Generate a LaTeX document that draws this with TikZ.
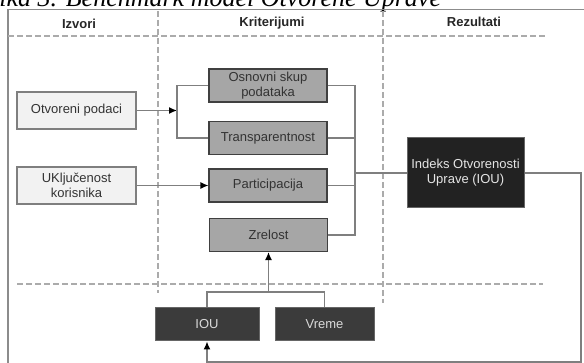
\documentclass[tikz,border=0pt]{standalone}
\usepackage{fontspec}
\setmainfont{Liberation Sans}
\newfontfamily\titlefont{Liberation Serif}
\usepackage{xcolor}
\usetikzlibrary{positioning, arrows.meta, calc}

\definecolor{linegray}{HTML}{7F7F7F}
\definecolor{dashgray}{HTML}{ABABAB}
\definecolor{srcfill}{HTML}{F2F2F2}
\definecolor{critfill}{HTML}{A6A6A6}
\definecolor{darkfill}{HTML}{3B3B3B}
\definecolor{resfill}{HTML}{222222}

\begin{document}
\begin{tikzpicture}[x=1pt, y=-1pt,
        every node/.style={font=\fontsize{13}{15}\selectfont},
        src/.style={draw=linegray, rectangle, fill=srcfill, text=black!80, line width=1.2pt, minimum width=119pt, minimum height=37pt, align=center, inner sep=1pt},
        crit/.style={draw=black!75, rectangle, fill=critfill, text=black!80, line width=1.2pt, minimum width=118pt, minimum height=33pt, align=center, inner sep=1pt},
        res/.style={draw=black!60, rectangle, fill=resfill, text=white!90!black, line width=1pt, minimum width=117pt, minimum height=70pt, align=center, inner sep=1pt},
        inp/.style={draw=black!60, rectangle, fill=darkfill, text=black!15, line width=1pt, minimum height=33pt, align=center, inner sep=1pt},
        head/.style={font=\fontsize{13}{15}\selectfont\bfseries, text=black!85},
        line/.style={draw=linegray, line width=1.3pt},
        arrow/.style={line, -{Latex[length=8pt, width=7pt, color=black, fill=black]}},
        sep/.style={draw=dashgray, line width=1.3pt, dash pattern=on 6pt off 3pt}
    ]

    \useasboundingbox (0,0) rectangle (584,363);
    \clip (0,0) rectangle (584,363);

    % --- Caption (cut at the top) ---
    \node[anchor=base west, inner sep=0pt, font=\titlefont\itshape\fontsize{26}{28}\selectfont] (caption) at (-21,7) {Slika 3. Benchmark model Otvorene Uprave};

    % --- Frame and column separators ---
    \draw[draw=black!45, line width=1.2pt] (8,365) -- (8,9.5) -- (586,9.5);
    \draw[sep] (8,36) -- (547,36);
    \draw[sep] (17,284) -- (543,284);
    \draw[sep] (158,11) -- (158,293);
    \draw[sep] (383,11) -- (383,303);

    % --- Column headers ---
    \node[head] (hizvori) at (79,24) {Izvori};
    \node[head] (hkrit) at (272,23) {Kriterijumi};
    \node[head] (hrez) at (474,22) {Rezultati};

    % --- Sources ---
    \node[src] (otvoreni) at (76.5,110.5) {Otvoreni podaci};
    \node[src] (ukljucenost) at (76.5,185.5) {UKljučenost\\korisnika};

    % --- Criteria ---
    \node[crit] (osnovni) at (268,85.5) {Osnovni skup\\podataka};
    \node[crit] (transp) at (268,138) {Transparentnost};
    \node[crit] (partic) at (268,185.5) {Participacija};
    \node[crit] (zrelost) at (268.5,235) {Zrelost};

    % --- Result ---
    \node[res] (indeks) at (465.5,173) {Indeks Otvorenosti\\Uprave (IOU)};

    % --- Inputs for maturity ---
    \node[inp, minimum width=104pt] (iou) at (207,324.5) {IOU};
    \node[inp, minimum width=99pt] (vreme) at (324.5,324.5) {Vreme};

    % --- Helper points ---
    \coordinate (split) at (177,110.5);
    \coordinate (bus) at (355,0);
    \coordinate (join) at (268.5,292);
    \coordinate (loop) at (581,362);

    % --- Sources to criteria ---
    \draw[arrow] (otvoreni) -- (split);
    \draw[line] (split) |- (osnovni);
    \draw[line] (split) |- (transp);
    \draw[arrow] (ukljucenost) -- (partic);

    % --- Criteria to index ---
    \draw[line] (osnovni) -| (bus |- zrelost) -- (zrelost);
    \draw[line] (transp) -- (transp -| bus);
    \draw[line] (partic) -- (partic -| bus);
    \draw[line] (bus |- indeks) -- (indeks);

    % --- Feedback loop ---
    \draw[arrow] (indeks) -| (loop) -| (iou);
    \draw[line] (iou) |- (join) -| (vreme);
    \draw[arrow] (join) -- (zrelost);

    \end{tikzpicture}
\end{document}
